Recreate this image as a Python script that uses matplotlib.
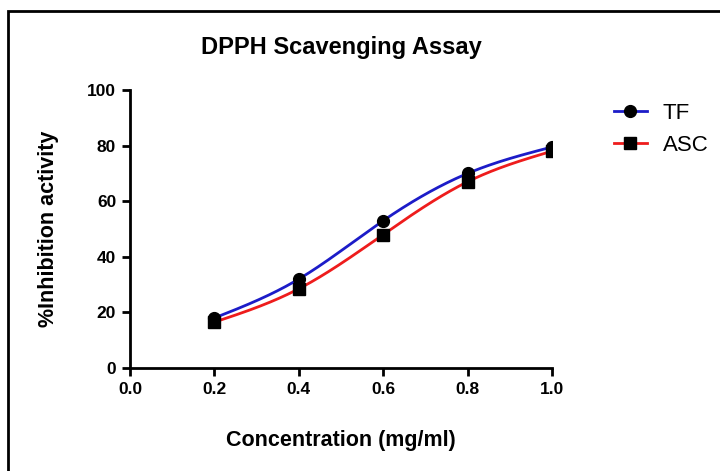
import numpy as np
import matplotlib.pyplot as plt
from matplotlib.patches import Rectangle

plt.rcParams['font.family'] = ['Liberation Sans', 'DejaVu Sans']

# Дані
concentration = [0.2, 0.4, 0.6, 0.8, 1.0]
tf_values = [18.0, 32.0, 53.0, 70.0, 79.5]
asc_values = [16.5, 28.5, 48.0, 67.0, 78.0]


def smooth_curve(x, y, n=200):
    # природний кубічний сплайн через точки
    x = np.asarray(x, float)
    y = np.asarray(y, float)
    k = len(x)
    h = np.diff(x)
    A = np.zeros((k, k))
    b = np.zeros(k)
    A[0, 0] = A[-1, -1] = 1
    for i in range(1, k - 1):
        A[i, i - 1] = h[i - 1]
        A[i, i] = 2 * (h[i - 1] + h[i])
        A[i, i + 1] = h[i]
        b[i] = 6 * ((y[i + 1] - y[i]) / h[i] - (y[i] - y[i - 1]) / h[i - 1])
    m = np.linalg.solve(A, b)
    xs = np.linspace(x[0], x[-1], n)
    idx = np.clip(np.searchsorted(x, xs) - 1, 0, k - 2)
    t0 = x[idx]
    t1 = x[idx + 1]
    hh = t1 - t0
    ys = (m[idx] * (t1 - xs) ** 3 / (6 * hh) + m[idx + 1] * (xs - t0) ** 3 / (6 * hh)
          + (y[idx] / hh - m[idx] * hh / 6) * (t1 - xs)
          + (y[idx + 1] / hh - m[idx + 1] * hh / 6) * (xs - t0))
    return xs, ys


fig = plt.figure(figsize=(7.2, 4.71), dpi=100)
ax = fig.add_axes([0.1806, 0.2187, 0.5861, 0.5902])

blue = '#1c1cc8'
red = '#ee1c1c'

xs, ys = smooth_curve(concentration, tf_values)
ax.plot(xs, ys, color=blue, lw=2)
xs, ys = smooth_curve(concentration, asc_values)
ax.plot(xs, ys, color=red, lw=2)
ax.plot(concentration, tf_values, 'o', color='black', ms=8.5)
ax.plot(concentration, asc_values, 's', color='black', ms=8)

ax.set_xlim(0, 1.0)
ax.set_ylim(0, 100)
ax.set_xticks([0.0, 0.2, 0.4, 0.6, 0.8, 1.0])
ax.set_yticks([0, 20, 40, 60, 80, 100])
ax.set_xticklabels(['0.0', '0.2', '0.4', '0.6', '0.8', '1.0'])
for s in ['top', 'right']:
    ax.spines[s].set_visible(False)
for s in ['left', 'bottom']:
    ax.spines[s].set_linewidth(2)
ax.tick_params(width=2, length=6, labelsize=12.5, pad=4)
for lab in ax.get_xticklabels() + ax.get_yticklabels():
    lab.set_fontweight('bold')

ax.set_title('DPPH Scavenging Assay', fontsize=17, fontweight='bold', pad=26)
ax.set_xlabel('Concentration (mg/ml)', fontsize=15.5, fontweight='bold', labelpad=24)
ax.set_ylabel('%Inhibition activity', fontsize=15.5, fontweight='bold', labelpad=20)

# Легенда
h1, = ax.plot([], [], color=blue, lw=2, marker='o', mfc='black', mec='black', ms=8.5)
h2, = ax.plot([], [], color=red, lw=2, marker='s', mfc='black', mec='black', ms=8)
ax.legend([h1, h2], ['TF', 'ASC'], loc='upper left', bbox_to_anchor=(1.125, 0.985),
          frameon=False, fontsize=16, handlelength=1.5, handletextpad=0.7,
          labelspacing=0.5, borderaxespad=0)

# Рамка
fig.patches.append(Rectangle((8 / 720, -0.01), 1, 1 - 11 / 471 + 0.01, transform=fig.transFigure,
                             fill=False, lw=2, edgecolor='black'))

fig.savefig('out.png', dpi=100)
